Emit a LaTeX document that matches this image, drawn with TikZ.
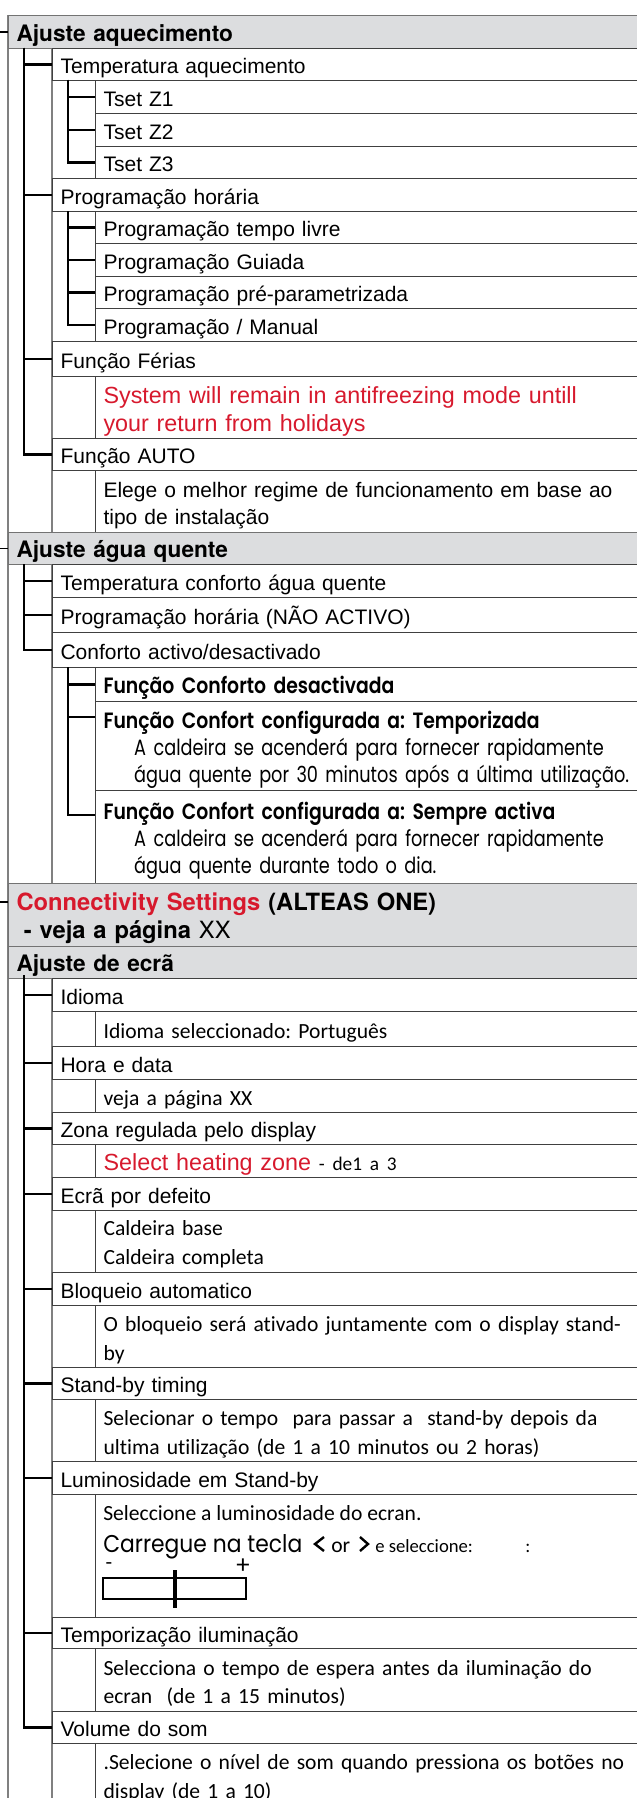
\documentclass[tikz,border=0pt]{standalone}
\usepackage{fontspec}
\usetikzlibrary{calc}
\setmainfont{Liberation Sans}
\newfontfamily\herosb{texgyreheros-bold.otf}
\newfontfamily\herosr{texgyreheros-regular.otf}
\newfontfamily\myriad{Carlito}[Ligatures=NoCommon]
\newfontfamily\rounded{Poppins}[FakeStretch=0.8, BoldFont={Poppins SemiBold},
  BoldFeatures={FakeStretch=0.85}]
\newfontfamily\roundedw{Poppins}[FakeStretch=0.9]
\newcommand\myrfont{\myriad\fontsize{16.2}{21.5}\selectfont}
\newcommand\rndfont{\rounded\fontsize{16.6}{20.25}\selectfont}
\definecolor{hdrfill}{RGB}{220,221,223}
\definecolor{alertred}{RGB}{215,25,45}
\tikzset{
  cell/.style={draw=black!75, line width=0.85pt, rectangle, anchor=north west,
    inner xsep=6pt, inner ysep=0pt, align=left, text height=14pt, text depth=0pt,
    font=\fontsize{15.75}{20.6}\selectfont},
  rh/.style={minimum height=#1*0.75pt},
  hdr/.style={cell, fill=hdrfill, draw=black!55, text width=492pt,
    font=\herosb\fontsize{17}{21}\selectfont},
  lone/.style={cell, text width=459pt},
  ltwo/.style={cell, text width=426.75pt},
  spine/.style={line width=1.7pt},
  frame/.style={draw=black!50, line width=0.8pt},
  tick/.style={line width=1pt},
  chev/.style={line width=1.8pt},
  plain/.style={anchor=base west, inner sep=0pt}
}
\begin{document}
\frenchspacing
\begin{tikzpicture}[x=0.75pt, y=-0.75pt]
\useasboundingbox (0,0) rectangle (636,1798);
\coordinate (edge) at (0,0);
% frame lines
\draw[frame] (8,15) -- (8,1798);
\draw[frame] (52,48) -- (52,532);
\draw[frame] (52,564) -- (52,883);
\draw[frame] (52,978) -- (52,1798);

% Ajuste aquecimento
\node[hdr, rh=33] (hdrA) at (8,15) {Ajuste aquecimento};
\node[lone, rh=32] (tempaq) at (52,48) {Temperatura aquecimento};
\node[ltwo, rh=33] (tsa) at (95,80) {Tset Z1};
\node[ltwo, rh=33] (tsb) at (95,113) {Tset Z2};
\node[ltwo, rh=32] (tsc) at (95,146) {Tset Z3};
\node[lone, rh=33] (progh) at (52,178) {Programação horária};
\node[ltwo, rh=32] (pta) at (95,211) {Programação tempo livre};
\node[ltwo, rh=33] (ptb) at (95,243) {Programação Guiada};
\node[ltwo, rh=32] (ptc) at (95,276) {Programação pré-parametrizada};
\node[ltwo, rh=33] (ptd) at (95,308) {Programação / Manual};
\node[lone, rh=35] (ferias) at (52,341) {Função Férias};
\node[ltwo, rh=62, text=alertred, text height=15pt, text depth=20.6pt,
  font=\fontsize{17.5}{20.6}\selectfont] (feriasd) at (95,376)
  {System will remain in antifreezing mode untill\\your return from holidays};
\node[lone, rh=32] (fauto) at (52,438) {Função AUTO};
\node[ltwo, rh=62, text depth=20.6pt] (fautod) at (95,470)
  {Elege o melhor regime de funcionamento em base ao\\tipo de instalação};

% Ajuste agua quente
\node[hdr, rh=32] (hdrB) at (8,532) {Ajuste água quente};
\node[lone, rh=33] (tca) at (52,564) {Temperatura conforto água quente};
\node[lone, rh=35] (pna) at (52,597) {Programação horária (NÃO ACTIVO)};
\node[lone, rh=35] (cad) at (52,632) {Conforto activo/desactivado};
\node[ltwo, rh=34, font=\rndfont\bfseries] (fcd) at (95,667) {Função Conforto desactivada};
\node[ltwo, rh=89, font=\rndfont, text depth=40.5pt] (tempz) at (95,701)
  {\textbf{Função Confort configurada a: Temporizada}\\
   \hspace*{23pt}\makebox[375pt][s]{A caldeira se acenderá para fornecer rapidamente}\\
   \hspace*{23pt}água quente por 30 minutos após a última utilização.};
\node[ltwo, rh=93, font=\rndfont, text depth=40.5pt] (sempa) at (95,790)
  {\textbf{Função Confort configurada a: Sempre activa}\\
   \hspace*{23pt}\makebox[375pt][s]{A caldeira se acenderá para fornecer rapidamente}\\
   \hspace*{23pt}água quente durante todo o dia.};

% Connectivity
\node[hdr, rh=63, text depth=21pt, font=\herosb\fontsize{17.8}{21}\selectfont] (hdrC) at (8,883)
  {{\color{alertred}Connectivity Settings} (ALTEAS ONE)\\
   \hspace*{5.5pt}- veja a página {\herosr XX}};

% Ajuste de ecra
\node[hdr, rh=32] (hdrD) at (8,946) {Ajuste de ecrã};
\node[lone, rh=33] (idi) at (52,978) {Idioma};
\node[ltwo, rh=35, font=\myrfont] (idid) at (95,1011) {Idioma seleccionado: Português};
\node[lone, rh=33] (hora) at (52,1046) {Hora e data};
\node[ltwo, rh=33, font=\myrfont] (horad) at (95,1079) {veja a página XX};
\node[lone, rh=32] (zona) at (52,1112) {Zona regulada pelo display};
\node[ltwo, rh=33, font=\fontsize{17.5}{20.6}\selectfont] (zonad) at (95,1144)
  {{\color{alertred}Select heating zone} {\myriad\fontsize{14.5}{18}\selectfont - de1 a 3}};
\node[lone, rh=33] (ecra) at (52,1177) {Ecrã por defeito};
\node[ltwo, rh=62, font=\myrfont, text depth=22.5pt] (ecrad) at (95,1210)
  {Caldeira base\\Caldeira completa};
\node[lone, rh=33] (bloq) at (52,1272) {Bloqueio automatico};
\node[ltwo, rh=62, font=\myrfont, text depth=21pt] (bloqd) at (95,1305)
  {O bloqueio será ativado juntamente com o display stand-\\by};
\node[lone, rh=32] (stby) at (52,1367) {Stand-by timing};
\node[ltwo, rh=62, font=\myrfont, text depth=21pt] (stbyd) at (95,1399)
  {Selecionar o tempo\ \ para passar a\ \ stand-by depois da\\ultima utilização (de 1 a 10 minutos ou 2 horas)};
\node[lone, rh=33] (lumi) at (52,1461) {Luminosidade em Stand-by};
\node[ltwo, rh=123] (lumid) at (95,1494) {};
\node[lone, rh=31] (tmpil) at (52,1617) {Temporização iluminação};
\node[ltwo, rh=63, font=\myrfont, text depth=21.5pt] (tmpild) at (95,1648)
  {Selecciona o tempo de espera antes da iluminação do\\ecran\ \ (de 1 a 15 minutos)};
\node[lone, rh=32] (vol) at (52,1711) {Volume do som};
\node[ltwo, rh=62, font=\myrfont, text depth=21pt] (vold) at (95,1743)
  {.Selecione o nível de som quando pressiona os botões no\\display (de 1 a 10)};

% brightness slider
\node[plain, font=\myrfont] (luma) at (103,1520) {Seleccione a luminosidade do ecran.};
\node[plain, font=\roundedw\fontsize{18.2}{20}\selectfont] (lumb) at (103,1552) {Carregue na tecla};
\draw[chev] (324,1537) -- (315,1544) -- (324,1551);
\node[plain, font=\myrfont] (lumor) at (331,1552) {or};
\draw[chev] (360,1537) -- (368,1544) -- (360,1551);
\node[plain, font=\myriad\fontsize{14}{16}\selectfont] (lumsel) at (375,1552) {e seleccione:};
\node[plain, font=\myriad\fontsize{14}{16}\selectfont] (lumcol) at (525,1552) {:};
\node[inner sep=0pt, font=\myrfont] (lumminus) at (109,1566) {-};
\node[inner sep=0pt, font=\myriad\fontsize{20}{20}\selectfont] (lumplus) at (243,1566) {+};
\draw[line width=2pt] (103,1578) rectangle (246,1599);
\draw[line width=3pt] (175,1570) -- (175,1608);

% connectors
\coordinate (spA) at (24,48);
\foreach \n in {tempaq,progh,ferias,fauto} \draw[spine] (spA) |- (\n.west);
\coordinate (spAa) at (68,80);
\foreach \n in {tsa,tsb,tsc} \draw[spine] (spAa) |- (\n.west);
\coordinate (spAb) at (68,211);
\foreach \n in {pta,ptb,ptc,ptd} \draw[spine] (spAb) |- (\n.west);
\coordinate (spB) at (24,564);
\foreach \n in {tca,pna,cad} \draw[spine] (spB) |- (\n.west);
\coordinate (spBa) at (68,667);
\draw[spine] (spBa) |- (fcd.west);
\draw[spine] (spBa) |- ($(tempz.north west)+(0,16)$);
\draw[spine] (spBa) |- ($(sempa.north west)+(0,25)$);
\coordinate (spD) at (24,975);
\foreach \n in {idi,hora,zona,ecra,bloq,stby,lumi,tmpil,vol} \draw[spine] (spD) |- (\n.west);

% header ticks
\foreach \n in {hdrA,hdrB} \draw[tick] (edge |- \n.west) -- (\n.west);
\draw[tick] (edge |- 0,902) -- (8,902);
\end{tikzpicture}
\end{document}
